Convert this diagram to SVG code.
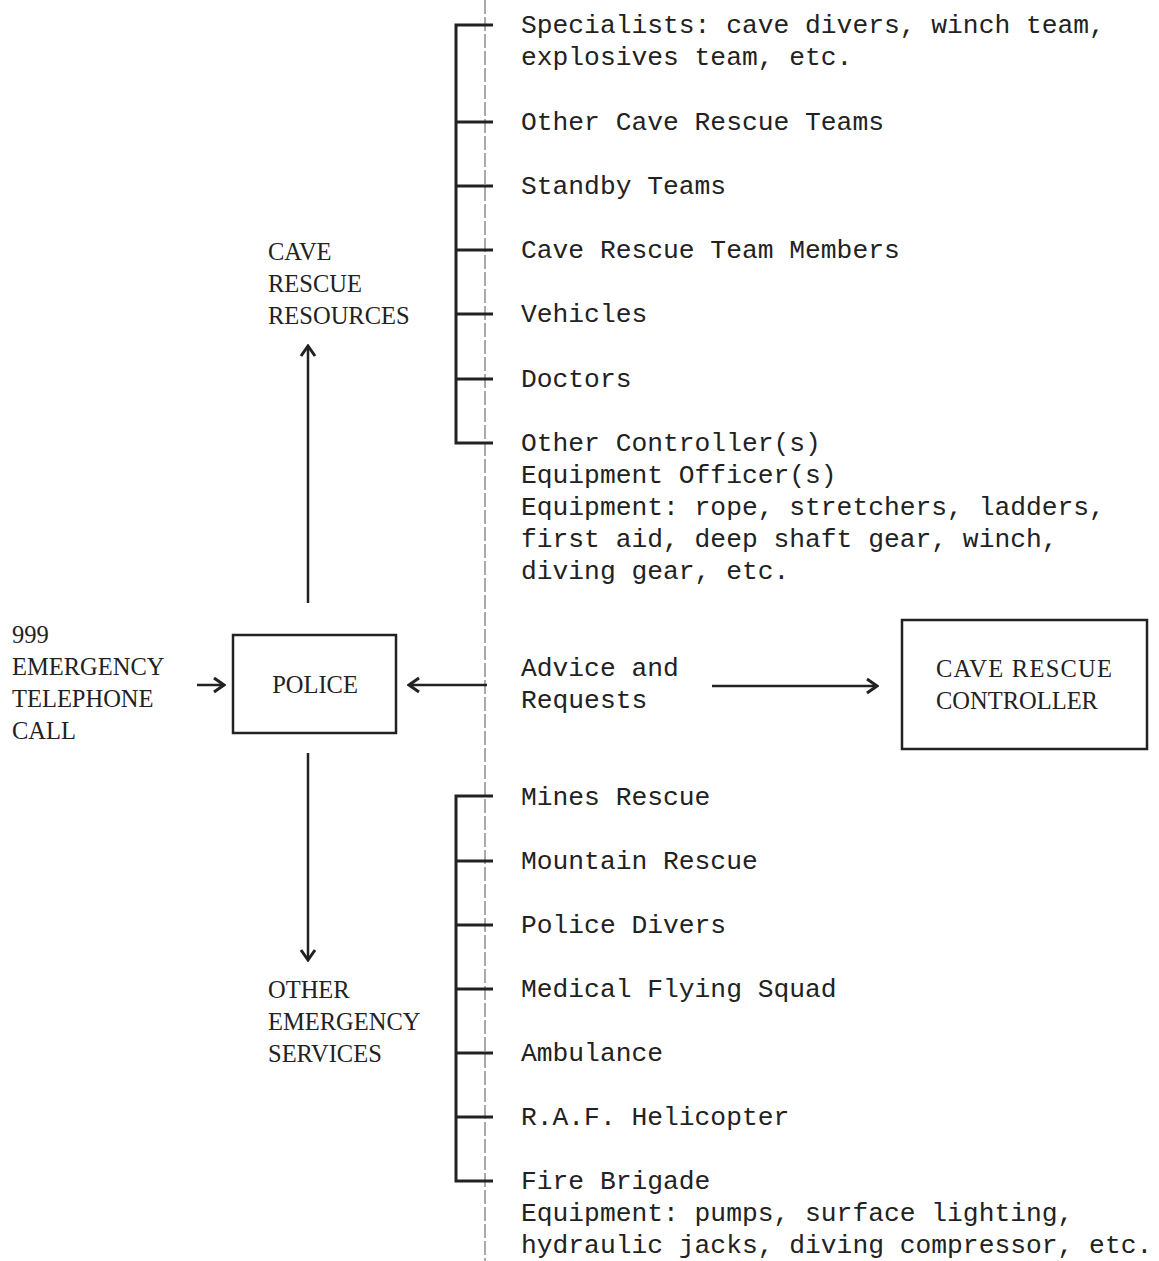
<svg xmlns="http://www.w3.org/2000/svg" width="1159" height="1261" viewBox="0 0 1159 1261">
<style>
.m{font-family:"Liberation Mono","Courier New",monospace;font-size:26.3px;fill:#222}
.s{font-family:"Liberation Serif","Times New Roman",serif;font-size:24.5px;fill:#222}
.br{stroke:#222;stroke-width:3;fill:none}
.ar{stroke:#222;stroke-width:2.5;fill:none}
.bx{stroke:#222;stroke-width:2.5;fill:#fff}
</style>
<defs>
<marker id="ah" viewBox="0 0 14 18" refX="12" refY="9" markerWidth="14" markerHeight="18" markerUnits="userSpaceOnUse" orient="auto">
<path d="M2,2 L12,9 L2,16" fill="none" stroke="#222" stroke-width="3"/>
</marker>
</defs>
<rect width="1159" height="1261" fill="#fff"/>
<g id="connectors">
<line x1="485" y1="0" x2="485" y2="1261" stroke="#555" stroke-width="1" stroke-dasharray="14,3"/>
<path class="br" d="M493,25 H456 V443 H493 M456,122 H493 M456,186 H493 M456,250 H493 M456,314 H493 M456,379 H493"/>
<path class="br" d="M493,796 H456 V1181 H493 M456,861 H493 M456,925 H493 M456,989 H493 M456,1053 H493 M456,1117 H493"/>
<line class="ar" x1="197" y1="685" x2="224" y2="685" marker-end="url(#ah)"/>
<line class="ar" x1="487" y1="685" x2="409" y2="685" marker-end="url(#ah)"/>
<line class="ar" x1="712" y1="686" x2="877" y2="686" marker-end="url(#ah)"/>
<line class="ar" x1="308" y1="603" x2="308" y2="346" marker-end="url(#ah)"/>
<line class="ar" x1="308" y1="753" x2="308" y2="960" marker-end="url(#ah)"/>
</g>
<g id="police">
<rect class="bx" x="233" y="635" width="163" height="98"/>
<text class="s" x="315" y="693" text-anchor="middle">POLICE</text>
</g>
<g id="controller">
<rect class="bx" x="902" y="620" width="245" height="129"/>
<text class="s" x="936" y="677" textLength="176">CAVE RESCUE</text>
<text class="s" x="936" y="709">CONTROLLER</text>
</g>
<g id="call">
<text class="s" x="12" y="643">999</text>
<text class="s" x="12" y="675">EMERGENCY</text>
<text class="s" x="12" y="707">TELEPHONE</text>
<text class="s" x="12" y="739">CALL</text>
</g>
<g id="resources">
<text class="s" x="268" y="260">CAVE</text>
<text class="s" x="268" y="292">RESCUE</text>
<text class="s" x="268" y="324">RESOURCES</text>
</g>
<g id="services">
<text class="s" x="268" y="998">OTHER</text>
<text class="s" x="268" y="1030">EMERGENCY</text>
<text class="s" x="268" y="1062">SERVICES</text>
</g>
<g id="advice">
<text class="m" x="521" y="676">Advice and</text>
<text class="m" x="521" y="708">Requests</text>
</g>
<g id="resource-items">
<text class="m" x="521" y="33">Specialists: cave divers, winch team,</text>
<text class="m" x="521" y="65">explosives team, etc.</text>
<text class="m" x="521" y="130">Other Cave Rescue Teams</text>
<text class="m" x="521" y="194">Standby Teams</text>
<text class="m" x="521" y="258">Cave Rescue Team Members</text>
<text class="m" x="521" y="322">Vehicles</text>
<text class="m" x="521" y="387">Doctors</text>
<text class="m" x="521" y="451">Other Controller(s)</text>
<text class="m" x="521" y="483">Equipment Officer(s)</text>
<text class="m" x="521" y="515">Equipment: rope, stretchers, ladders,</text>
<text class="m" x="521" y="547">first aid, deep shaft gear, winch,</text>
<text class="m" x="521" y="579">diving gear, etc.</text>
</g>
<g id="service-items">
<text class="m" x="521" y="805">Mines Rescue</text>
<text class="m" x="521" y="869">Mountain Rescue</text>
<text class="m" x="521" y="933">Police Divers</text>
<text class="m" x="521" y="997">Medical Flying Squad</text>
<text class="m" x="521" y="1061">Ambulance</text>
<text class="m" x="521" y="1125">R.A.F. Helicopter</text>
<text class="m" x="521" y="1189">Fire Brigade</text>
<text class="m" x="521" y="1221">Equipment: pumps, surface lighting,</text>
<text class="m" x="521" y="1253">hydraulic jacks, diving compressor, etc.</text>
</g>
</svg>
